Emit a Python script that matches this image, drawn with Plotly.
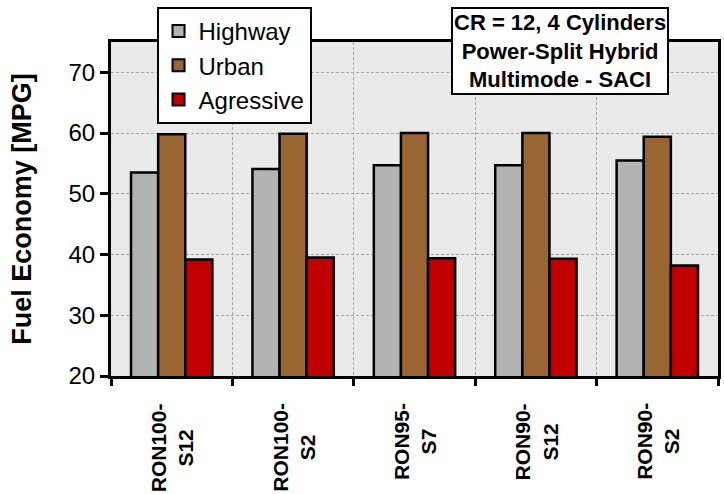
import plotly.graph_objects as go

categories = ["RON100-<br>S12", "RON100-<br>S2", "RON95-<br>S7", "RON90-<br>S12", "RON90-<br>S2"]
highway = [53.5, 54.1, 54.7, 54.7, 55.5]
urban = [59.8, 59.9, 60.0, 60.0, 59.4]
agressive = [39.2, 39.5, 39.4, 39.3, 38.2]
series_names = ["Highway", "Urban", "Agressive"]
series_colors = ["#b3b3b3", "#996633", "#c00000"]

FONT = "Liberation Sans, Arial, sans-serif"
x = list(range(len(categories)))
fig = go.Figure()
for name, vals, col in zip(series_names, [highway, urban, agressive], series_colors):
    fig.add_trace(go.Bar(x=x, y=vals, name=name,
                         marker=dict(color=col, line=dict(color="black", width=2.5))))

fig.update_layout(
    width=724, height=494,
    margin=dict(l=111, r=3, t=42, b=118),
    paper_bgcolor="white", plot_bgcolor="#eaeaea",
    barmode="group", bargap=0.33, bargroupgap=0,
    font=dict(family=FONT, color="black"),
    showlegend=True,
    legend=dict(x=0.075, y=1.105, xanchor="left", yanchor="top",
                bgcolor="white", bordercolor="black", borderwidth=2,
                font=dict(size=24), tracegroupgap=0, itemsizing="constant"),
)
fig.update_xaxes(range=[-0.5, len(categories) - 0.5],
                 tickmode="array", tickvals=x, showticklabels=False,
                 ticks="", showgrid=False,
                 showline=True, linecolor="black", linewidth=3, mirror=True,
                 minor=dict(tick0=-0.5, dtick=1, ticks="outside", ticklen=7, tickwidth=3,
                            tickcolor="black", showgrid=True, gridcolor="#a8a8a8",
                            griddash="3px,2px", gridwidth=1),
                 zeroline=False)
fig.update_yaxes(range=[20, 75], tickvals=[20, 30, 40, 50, 60, 70],
                 ticks="outside", ticklen=8, tickwidth=3, tickcolor="black",
                 tickfont=dict(size=24),
                 showline=True, linecolor="black", linewidth=3, mirror=True,
                 showgrid=True, gridcolor="#a8a8a8", griddash="3px,2px", gridwidth=1,
                 zeroline=False,
                 title=dict(text="<b>Fuel Economy [MPG]</b>", font=dict(size=27), standoff=30))

for xi, lab in zip(x, categories):
    fig.add_annotation(x=xi, y=-0.075, xref="x", yref="paper", text="<b>" + lab + "</b>",
                       textangle=-90, showarrow=False, font=dict(size=21, family=FONT),
                       align="center", xanchor="center", yanchor="top")

fig.add_annotation(x=0.739, y=0.973, xref="paper", yref="paper", xanchor="center", yanchor="middle",
                   text="<b>CR = 12, 4 Cylinders<br>Power-Split Hybrid<br>Multimode - SACI</b>",
                   showarrow=False, font=dict(size=22), align="center",
                   bgcolor="white", bordercolor="black", borderwidth=2, borderpad=1)

fig.write_html("out.html")
